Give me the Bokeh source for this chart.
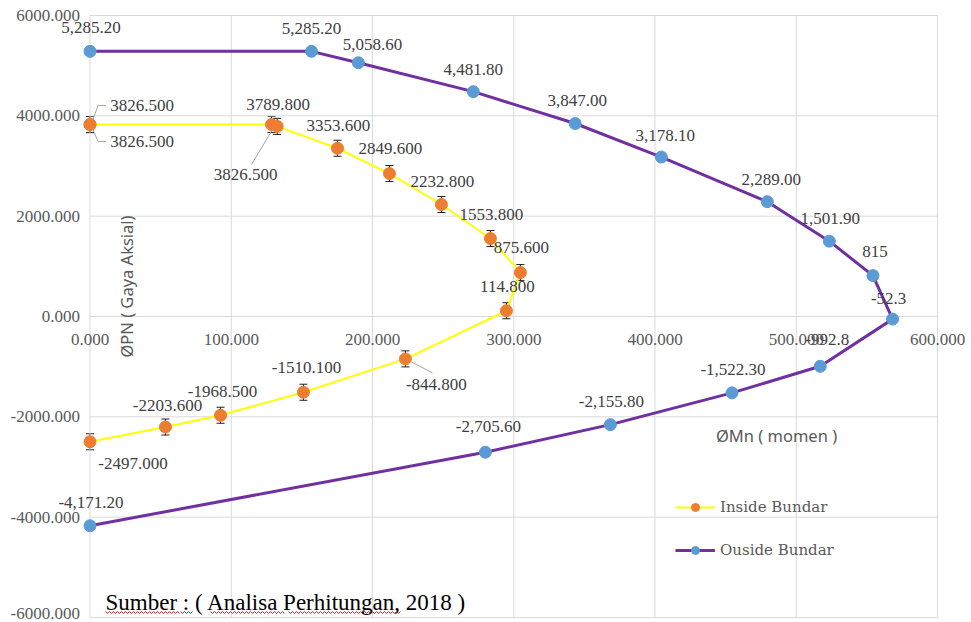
from math import pi
import numpy as np
from bokeh.plotting import figure
from bokeh.models import (ColumnDataSource, LabelSet, Label, Legend, LegendItem,
                          Whisker, TeeHead)
from bokeh.embed import file_html
from bokeh.resources import INLINE

# ---------------- data ----------------
out_x = [0, 156.8, 190.0, 271.4, 343.5, 404.5, 479.5, 523.4, 554.3, 568.2, 517.0, 454.5, 368.4, 279.9, 0]
out_y = [5285.2, 5285.2, 5058.6, 4481.8, 3847.0, 3178.1, 2289.0, 1501.9, 815.0, -52.3, -992.8, -1522.3, -2155.8, -2705.6, -4171.2]
out_labels = ["5,285.20", "5,285.20", "5,058.60", "4,481.80", "3,847.00", "3,178.10", "2,289.00",
              "1,501.90", "815", "-52.3", "-992.8", "-1,522.30", "-2,155.80", "-2,705.60", "-4,171.20"]

in_x = [0, 0, 128.5, 132.5, 175.2, 212.0, 248.8, 283.5, 304.7, 294.8, 223.3, 151.1, 92.4, 53.4, 0]
in_y = [3826.5, 3826.5, 3826.5, 3789.8, 3353.6, 2849.6, 2232.8, 1553.8, 875.6, 114.8, -844.8, -1510.1, -1968.5, -2203.6, -2497.0]
in_labels = ["3826.500", "3826.500", "3826.500", "3789.800", "3353.600", "2849.600", "2232.800",
             "1553.800", "875.600", "114.800", "-844.800", "-1510.100", "-1968.500", "-2203.600", "-2497.000"]
in_err = 160

x_ticks = [0, 100, 200, 300, 400, 500, 600]
x_tick_labels = ["0.000", "100.000", "200.000", "300.000", "400.000", "500.000", "600.000"]
y_ticks = [-6000, -4000, -2000, 0, 2000, 4000, 6000]
y_tick_labels = ["-6000.000", "-4000.000", "-2000.000", "0.000", "2000.000", "4000.000", "6000.000"]

# ---------------- layout (screen px) ----------------
W, H = 971, 622
PX_X0, PX_X600 = 89.5, 937.0      # pixel column of x = 0 and x = 600
PX_Y6000, PX_YM6000 = 15.0, 617.0  # pixel row of y = 6000 and y = -6000
sx = (PX_X600 - PX_X0) / 600.0
sy = (PX_YM6000 - PX_Y6000) / 12000.0
PX_Y0 = PX_Y6000 + 6000 * sy


def px2x(px):
    return (px - PX_X0) / sx


def py2y(py):
    return (PX_Y0 - py) / sy


out_dx = [1, 0, 14, 0, 2, 4, 4, 1, 2, -4, 7, 1, 1, 3, 1]
out_dy = [24, 23, 18, 22, 23, 22, 22, 23, 24, 21, 27, 23, 23, 26, 23]
in_dx = [52, 52, -26, 1, 1, 1, 1, 1, 1, 1, 31, 3, 2, 2, 43]
in_dy = [19, -17, -50, 22, 23, 25, 23, 24, 25, 24, -26, 25, 24, 22, -22]
ytl_dy = [4, 0, 0, 0, 0, 0, 0]
leaders = {0: [(3, 5), (8, 19), (16, 19)],
           1: [(3, -5), (8, -17), (16, -17)],
           2: [(1, -5), (-20, -40)],
           10: [(6, -3), (27, -14)]}
# spell-check squiggles under the source note: (x start px, x end px, colour)
squiggles = [(105, 180, "#E02020"), (180, 192, "#2040E0"), (210, 285, "#E02020"), (288, 400, "#E02020")]
SQ_Y = 612

PURPLE = "#7030A0"
BLUE = "#5B9BD5"
YELLOW = "#FFFF00"
ORANGE = "#ED7D31"
GRID = "#D9D9D9"
TICK = "#595959"
LAB = "#404040"
SERIF = "Liberation Serif"

p = figure(width=W, height=H, x_range=(px2x(0), px2x(W)), y_range=(py2y(H), py2y(0)),
           output_backend="svg", toolbar_location=None,
           x_axis_location=None, y_axis_location=None,
           min_border_left=0, min_border_right=0, min_border_top=0, min_border_bottom=0)
p.outline_line_color = None
p.background_fill_color = "white"
p.border_fill_color = "white"
p.grid.visible = False

# gridlines spanning the plot area only
p.segment(x0=[x_ticks[0]] * len(y_ticks), x1=[x_ticks[-1]] * len(y_ticks), y0=y_ticks, y1=y_ticks,
          line_color=GRID, line_width=1)
p.segment(x0=x_ticks, x1=x_ticks, y0=[y_ticks[0]] * len(x_ticks), y1=[y_ticks[-1]] * len(x_ticks),
          line_color=GRID, line_width=1)

# ---------------- series ----------------
out_src = ColumnDataSource(dict(x=out_x, y=out_y, t=out_labels, dx=out_dx, dy=out_dy))
in_src = ColumnDataSource(dict(x=in_x, y=in_y, t=in_labels, dx=in_dx, dy=in_dy,
                               up=[v + in_err for v in in_y], lo=[v - in_err for v in in_y]))

out_line = p.line("x", "y", source=out_src, line_color=PURPLE, line_width=3)
out_pts = p.scatter("x", "y", source=out_src, size=12, fill_color=BLUE, line_color=BLUE)

in_line = p.line("x", "y", source=in_src, line_color=YELLOW, line_width=2)
wh = Whisker(source=in_src, base="x", upper="up", lower="lo", dimension="height",
             line_color="#202020", line_width=1,
             upper_head=TeeHead(size=8, line_color="#202020", line_width=1),
             lower_head=TeeHead(size=8, line_color="#202020", line_width=1))
p.add_layout(wh)
in_pts = p.scatter("x", "y", source=in_src, size=12, fill_color=ORANGE, line_color=ORANGE)

# leader lines of the overlapping labels
lx, ly = [], []
for i, pts in leaders.items():
    lx.append([in_x[i] + dx / sx for dx, dy in pts])
    ly.append([in_y[i] + dy / sy for dx, dy in pts])
p.multi_line(lx, ly, line_color="#A6A6A6", line_width=1)

# data labels
for src in (out_src, in_src):
    p.add_layout(LabelSet(source=src, x="x", y="y", text="t", x_offset="dx", y_offset="dy",
                          text_align="center", text_baseline="middle",
                          text_font=SERIF, text_font_size="17px", text_color=LAB))

# tick labels
xt_src = ColumnDataSource(dict(x=x_ticks, y=[0] * len(x_ticks), t=x_tick_labels))
p.add_layout(LabelSet(source=xt_src, x="x", y="y", text="t", y_offset=-23,
                      text_align="center", text_baseline="middle",
                      text_font=SERIF, text_font_size="17px", text_color=TICK))
yt_src = ColumnDataSource(dict(x=[0] * len(y_ticks), y=y_ticks, t=y_tick_labels, dy=ytl_dy))
p.add_layout(LabelSet(source=yt_src, x="x", y="y", text="t", x_offset=-10, y_offset="dy",
                      text_align="right", text_baseline="middle",
                      text_font=SERIF, text_font_size="17px", text_color=TICK))

# axis titles and source note
p.add_layout(Label(x=px2x(126), y=py2y(286), text="ØPN ( Gaya Aksial)", angle=pi / 2,
                   text_align="center", text_baseline="middle",
                   text_font="Noto Sans", text_font_size="16.5px", text_color=TICK))
p.add_layout(Label(x=px2x(776), y=py2y(435), text="ØMn ( momen )",
                   text_align="center", text_baseline="middle",
                   text_font="Noto Sans", text_font_size="16.5px", text_color=TICK))
p.add_layout(Label(x=px2x(105), y=py2y(602), text="Sumber : ( Analisa Perhitungan, 2018 )",
                   text_align="left", text_baseline="middle",
                   text_font=SERIF, text_font_size="23px", text_color="black"))
for a, b, c in squiggles:
    xs = np.arange(a, b + 0.1, 2.0)
    ys = SQ_Y + np.where(np.arange(len(xs)) % 2 == 0, -1.0, 1.0)
    p.line([px2x(v) for v in xs], [py2y(v) for v in ys], line_color=c, line_width=1)

legend = Legend(items=[LegendItem(label="Inside Bundar", renderers=[in_line, in_pts]),
                       LegendItem(label="Ouside Bundar", renderers=[out_line, out_pts])],
                location=(675, H - 560), padding=0, margin=0, spacing=23,
                glyph_width=40, glyph_height=20, label_height=20, label_standoff=5,
                background_fill_alpha=0, border_line_color=None,
                label_text_font="DejaVu Serif", label_text_font_size="15px",
                label_text_color=TICK)
p.add_layout(legend)

open("out.html", "w").write(file_html(p, INLINE))
